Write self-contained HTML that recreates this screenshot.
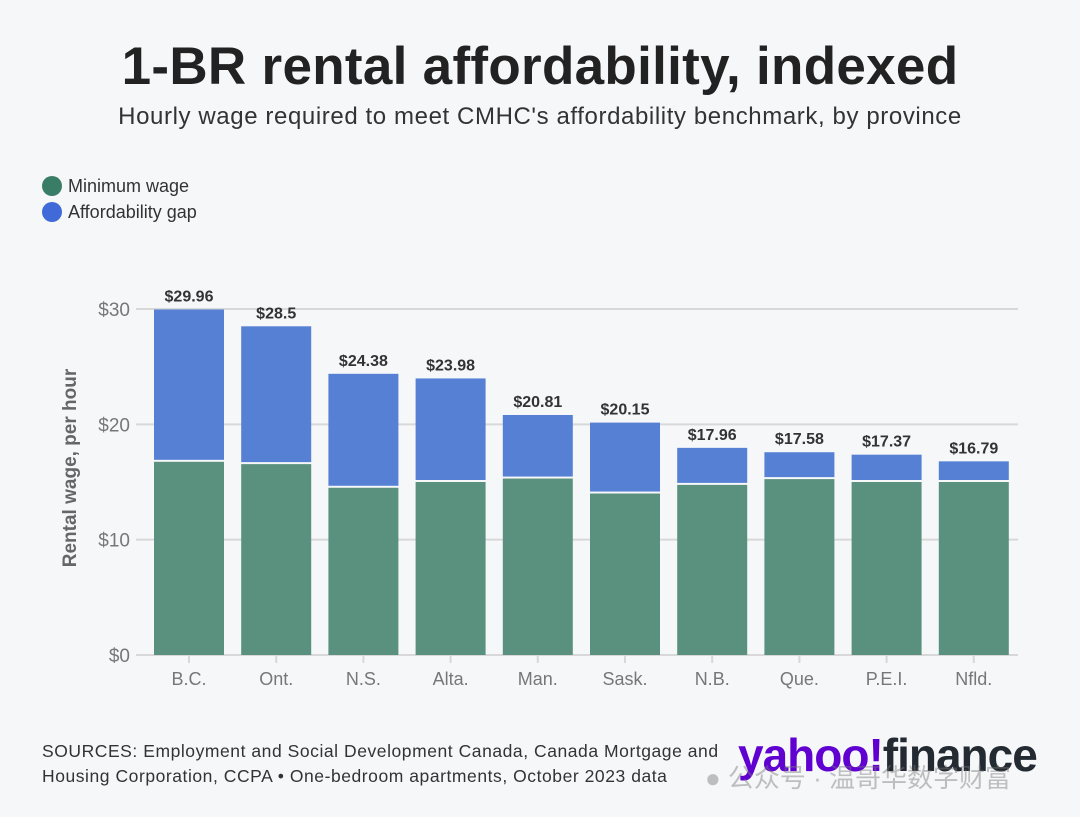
<!DOCTYPE html>
<html><head><meta charset="utf-8"><style>
body{margin:0;background:#f6f7f9;width:1080px;height:817px;overflow:hidden;font-family:"Liberation Sans","Noto Sans CJK SC",sans-serif;position:relative}
.t{position:absolute}
</style></head><body>
<div class="t" style="left:0;width:1080px;top:36px;text-align:center;font-size:53px;font-weight:bold;color:#222;letter-spacing:0.3px">1-BR rental affordability, indexed</div>
<div class="t" style="left:0;width:1080px;top:103px;text-align:center;font-size:24px;color:#333;letter-spacing:0.6px">Hourly wage required to meet CMHC's affordability benchmark, by province</div>
<div class="t" style="left:42px;top:176px;font-size:18px;color:#333"><span style="display:inline-block;width:20px;height:20px;border-radius:50%;background:#3a7d66;vertical-align:-4px;margin-right:6px"></span>Minimum wage</div>
<div class="t" style="left:42px;top:202px;font-size:18px;color:#333"><span style="display:inline-block;width:20px;height:20px;border-radius:50%;background:#3f6ad8;vertical-align:-4px;margin-right:6px"></span>Affordability gap</div>
<svg class="t" style="left:0;top:0" width="1080" height="817" id="chart"></svg>
<div class="t" style="left:42px;top:739px;font-size:17.5px;line-height:25px;color:#333;letter-spacing:0.55px">SOURCES: Employment and Social Development Canada, Canada Mortgage and<br>Housing Corporation, CCPA • One-bedroom apartments, October 2023 data</div>
<div class="t" style="left:738px;top:728px;font-size:46px;font-weight:bold;letter-spacing:-1px"><span style="color:#6001d2">yahoo!</span><span style="color:#232a31">finance</span></div>
<div class="t" style="left:705px;top:758px;font-size:26px;color:rgba(120,120,120,0.45)">● 公众号 · 温哥华数字财富</div>
<script>
const categories=["B.C.","Ont.","N.S.","Alta.","Man.","Sask.","N.B.","Que.","P.E.I.","Nfld."];
const minWage=[16.75,16.55,14.50,15.00,15.30,14.00,14.75,15.25,15.00,15.00];
const totals=[29.96,28.5,24.38,23.98,20.81,20.15,17.96,17.58,17.37,16.79];
const totalLabels=["$29.96","$28.5","$24.38","$23.98","$20.81","$20.15","$17.96","$17.58","$17.37","$16.79"];
const yTicks=[0,10,20,30];
const NS="http://www.w3.org/2000/svg",svg=document.getElementById('chart');
const y0=655,y30=309,x0=145,step=87.2,bw=70;
const y=v=>y0-(v/30)*(y0-y30);
const xc=i=>x0+9+bw/2+i*step;
function mk(t,a,txt){const e=document.createElementNS(NS,t);for(const k in a)e.setAttribute(k,a[k]);if(txt!=null)e.textContent=txt;svg.appendChild(e);return e;}
yTicks.forEach(v=>{
 const l=mk('line',{x1:136,x2:1018,y1:y(v),y2:y(v),stroke:'#d8d8d8','stroke-width':2});
 
 
 const t=mk('text',{x:130,y:y(v)+7,'text-anchor':'end','font-size':19,fill:'#777'},'$'+v);
 
 
});
const yt=mk('text',{x:76,y:468,'text-anchor':'middle','font-size':19,'font-weight':'bold',fill:'#666',transform:'rotate(-90 76 468)'},'Rental wage, per hour');


categories.forEach((c,i)=>{
 const x=xc(i)-bw/2;
 const g=mk('rect',{x:x,y:y(minWage[i]),width:bw,height:y0-y(minWage[i]),fill:'#5a917e'});
 
 
 const b=mk('rect',{x:x,y:y(totals[i]),width:bw,height:y(minWage[i])-y(totals[i])-2,fill:'#5580d4'});
 
 
 const lv=mk('text',{x:xc(i),y:y(totals[i])-8,'text-anchor':'middle','font-size':16,'font-weight':'bold',fill:'#333'},totalLabels[i]);
 
 
 const tk=mk('line',{x1:xc(i),x2:xc(i),y1:y0,y2:y0+8,stroke:'#d8d8d8','stroke-width':2});
 
 
 const xl=mk('text',{x:xc(i),y:y0+30,'text-anchor':'middle','font-size':18,fill:'#777'},c);
 
 
});
</script>
</body></html>
